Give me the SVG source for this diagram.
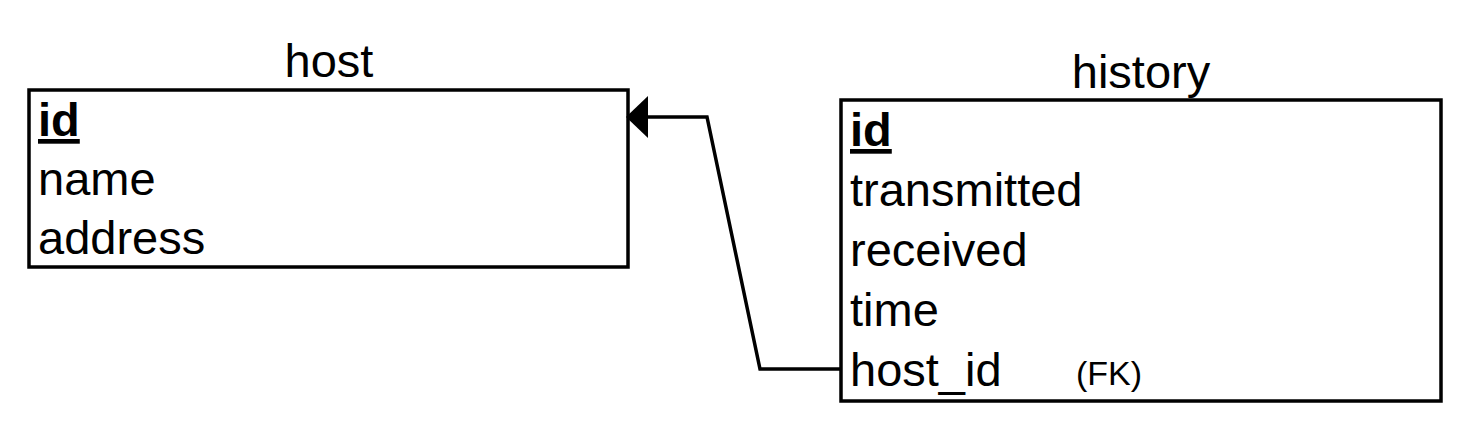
<svg xmlns="http://www.w3.org/2000/svg" width="1468" height="428" viewBox="0 0 1468 428">
<style>
.box{fill:#fff;stroke:#000;stroke-width:3.5}
.t{font-family:"Liberation Sans",Arial,sans-serif;font-size:47px;fill:#000}
.pk{font-weight:bold;text-decoration:underline}
.fk{font-family:"Liberation Sans",Arial,sans-serif;font-size:34px;fill:#000}
.conn{fill:none;stroke:#000;stroke-width:3.5}
</style>
<g id="host">
<text class="t" x="329" y="77" text-anchor="middle">host</text>
<rect class="box" x="29" y="90" width="599" height="177"/>
<text class="t pk" x="38" y="136">id</text>
<text class="t" x="38" y="195">name</text>
<text class="t" x="38" y="254">address</text>
</g>
<g id="history">
<text class="t" x="1141" y="88" text-anchor="middle">history</text>
<rect class="box" x="841" y="100" width="600" height="301"/>
<text class="t pk" x="850" y="146">id</text>
<text class="t" x="850" y="206">transmitted</text>
<text class="t" x="850" y="266">received</text>
<text class="t" x="850" y="326">time</text>
<text class="t" x="850" y="386">host_id</text>
<text class="fk" x="1076" y="385">(FK)</text>
</g>
<g id="connectors">
<polyline class="conn" points="841,369 760,369 707,117 646,117"/>
<path d="M626,117 L648,96 L648,138 Z" fill="#000"/>
</g>
</svg>
